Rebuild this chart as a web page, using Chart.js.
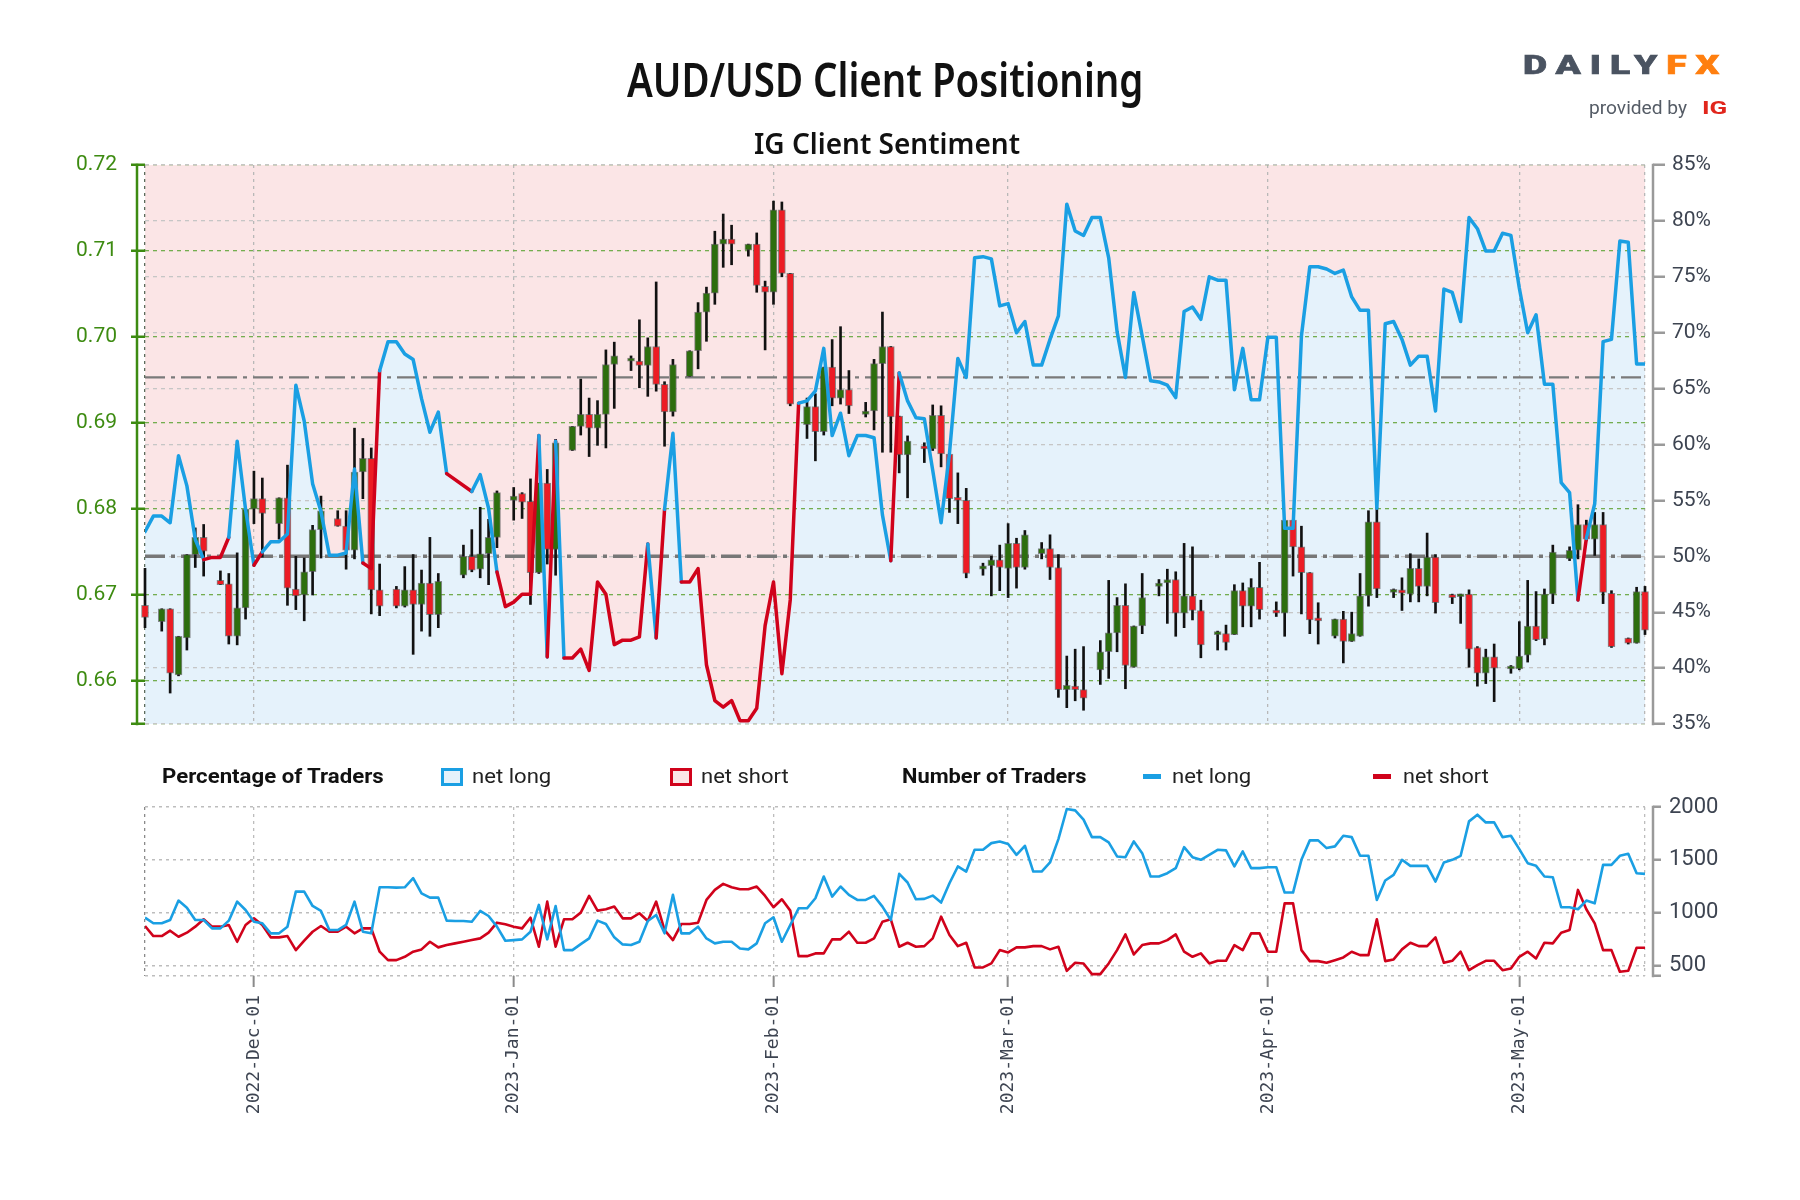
<!DOCTYPE html>
<html>
<head>
<meta charset="utf-8">
<script src="https://cdn.jsdelivr.net/npm/chart.js@4.4.0/dist/chart.umd.min.js"></script>
<style>
  html, body { margin: 0; padding: 0; background: #fff; }
  #page { position: relative; width: 1800px; height: 1200px; overflow: hidden; font-family: Roboto, sans-serif; }
  canvas { position: absolute; left: 0; top: 0; }
  .txt { position: absolute; white-space: nowrap; line-height: 1; transform-origin: 0 50%; }
  .box { position: absolute; box-sizing: border-box; }
</style>
</head>
<body>
<div id="page">
  <canvas id="bottomChart" width="1800" height="1200"></canvas>
  <canvas id="topChart" width="1800" height="1200"></canvas>

  <div class="txt" data-w="516" style="left:627px;top:79px;font:600 47px 'Noto Sans';color:#111;">AUD/USD Client Positioning</div>
  <div class="txt" data-w="266" style="left:754px;top:143px;font:600 28px 'Noto Sans';color:#111;">IG Client Sentiment</div>

  <div class="txt" data-w="205" style="left:1523px;top:65px;font:900 25px Roboto;letter-spacing:6px;-webkit-text-stroke:0.6px currentColor;color:#4a5361;"><span>DAILY</span><span style="color:#ff7f0f">FX</span></div>
  <div class="txt" data-w="98" style="left:1589px;top:107px;font:400 18px Roboto;color:#555c66;">provided by</div>
  <div class="txt" data-w="26" style="left:1702px;top:107px;font:700 19px Roboto;color:#e1261c;">IG</div>

  <div class="txt" data-w="222" style="left:162px;top:776px;font:700 21px Roboto;color:#111;">Percentage of Traders</div>
  <div class="box" style="left:441px;top:768px;width:22px;height:18px;border:3px solid #1a9fe3;background:#e5f2fb;"></div>
  <div class="txt" data-w="79" style="left:472px;top:776px;font:400 21px Roboto;color:#222;">net long</div>
  <div class="box" style="left:670px;top:768px;width:22px;height:18px;border:3px solid #d0021b;background:#fbe5e6;"></div>
  <div class="txt" data-w="88" style="left:701px;top:776px;font:400 21px Roboto;color:#222;">net short</div>
  <div class="txt" data-w="184" style="left:902px;top:776px;font:700 21px Roboto;color:#111;">Number of Traders</div>
  <div class="box" style="left:1143px;top:774px;width:18px;height:5px;background:#1a9fe3;"></div>
  <div class="txt" data-w="79" style="left:1172px;top:776px;font:400 21px Roboto;color:#222;">net long</div>
  <div class="box" style="left:1373px;top:774px;width:18px;height:5px;background:#d0021b;"></div>
  <div class="txt" data-w="86" style="left:1403px;top:776px;font:400 21px Roboto;color:#222;">net short</div>
</div>

<script>
// ---- data ----
const firstDay = '2022-11-18';

const candleDates = [
  '2022-11-18',
  '2022-11-20','2022-11-21','2022-11-22','2022-11-23','2022-11-24','2022-11-25',
  '2022-11-27','2022-11-28','2022-11-29','2022-11-30','2022-12-01','2022-12-02',
  '2022-12-04','2022-12-05','2022-12-06','2022-12-07','2022-12-08','2022-12-09',
  '2022-12-11','2022-12-12','2022-12-13','2022-12-14','2022-12-15','2022-12-16',
  '2022-12-18','2022-12-19','2022-12-20','2022-12-21','2022-12-22','2022-12-23',
  '2022-12-26','2022-12-27','2022-12-28','2022-12-29','2022-12-30',
  '2023-01-01','2023-01-02','2023-01-03','2023-01-04','2023-01-05','2023-01-06',
  '2023-01-08','2023-01-09','2023-01-10','2023-01-11','2023-01-12','2023-01-13',
  '2023-01-15','2023-01-16','2023-01-17','2023-01-18','2023-01-19','2023-01-20',
  '2023-01-22','2023-01-23','2023-01-24','2023-01-25','2023-01-26','2023-01-27',
  '2023-01-29','2023-01-30','2023-01-31','2023-02-01','2023-02-02','2023-02-03',
  '2023-02-05','2023-02-06','2023-02-07','2023-02-08','2023-02-09','2023-02-10',
  '2023-02-12','2023-02-13','2023-02-14','2023-02-15','2023-02-16','2023-02-17',
  '2023-02-19','2023-02-20','2023-02-21','2023-02-22','2023-02-23','2023-02-24',
  '2023-02-26','2023-02-27','2023-02-28','2023-03-01','2023-03-02','2023-03-03',
  '2023-03-05','2023-03-06','2023-03-07','2023-03-08','2023-03-09','2023-03-10',
  '2023-03-12','2023-03-13','2023-03-14','2023-03-15','2023-03-16','2023-03-17',
  '2023-03-19','2023-03-20','2023-03-21','2023-03-22','2023-03-23','2023-03-24',
  '2023-03-26','2023-03-27','2023-03-28','2023-03-29','2023-03-30','2023-03-31',
  '2023-04-02','2023-04-03','2023-04-04','2023-04-05','2023-04-06','2023-04-07',
  '2023-04-09','2023-04-10','2023-04-11','2023-04-12','2023-04-13','2023-04-14',
  '2023-04-16','2023-04-17','2023-04-18','2023-04-19','2023-04-20','2023-04-21',
  '2023-04-23','2023-04-24','2023-04-25','2023-04-26','2023-04-27','2023-04-28',
  '2023-04-30','2023-05-01','2023-05-02','2023-05-03','2023-05-04','2023-05-05',
  '2023-05-07','2023-05-08','2023-05-09','2023-05-10','2023-05-11','2023-05-12',
  '2023-05-14','2023-05-15','2023-05-16'
];

const opens = [
  0.6688,
  0.6669,0.6684,0.6607,0.6650,0.6747,0.6767,
  0.6717,0.6713,0.6652,0.6685,0.6800,0.6812,
  0.6783,0.6813,0.6707,0.6700,0.6727,0.6776,
  0.6789,0.6780,0.6752,0.6843,0.6859,0.6706,
  0.6707,0.6687,0.6706,0.6689,0.6714,0.6677,
  0.6723,0.6745,0.6730,0.6748,0.6767,
  0.6810,0.6818,0.6809,0.6726,0.6830,0.6753,
  0.6868,0.6896,0.6910,0.6894,0.6910,0.6968,
  0.6972,0.6972,0.6967,0.6989,0.6945,0.6913,
  0.6954,0.6984,0.7029,0.7051,0.7108,0.7114,
  0.7101,0.7108,0.7059,0.7052,0.7148,0.7074,
  0.6898,0.6919,0.6890,0.6965,0.6929,0.6939,
  0.6910,0.6914,0.6969,0.6989,0.6908,0.6863,
  0.6873,0.6870,0.6909,0.6864,0.6813,0.6810,
  0.6730,0.6734,0.6741,0.6731,0.6760,0.6732,
  0.6748,0.6754,0.6732,0.6590,0.6594,0.6590,
  0.6613,0.6634,0.6656,0.6688,0.6616,0.6664,
  0.6710,0.6714,0.6718,0.6679,0.6699,0.6682,
  0.6654,0.6655,0.6654,0.6705,0.6687,0.6709,
  0.6681,0.6679,0.6787,0.6756,0.6726,0.6672,
  0.6652,0.6672,0.6646,0.6652,0.6699,0.6785,
  0.6703,0.6706,0.6701,0.6731,0.6710,0.6744,
  0.6700,0.6698,0.6701,0.6639,0.6609,0.6628,
  0.6614,0.6614,0.6630,0.6664,0.6649,0.6701,
  0.6742,0.6752,0.6782,0.6765,0.6782,0.6702,
  0.6650,0.6644,0.6704
];

const highs = [
  0.6731,
  0.6684,0.6684,0.6652,0.6747,0.6778,0.6782,
  0.6728,0.6725,0.6749,0.6800,0.6844,0.6836,
  0.6813,0.6851,0.6745,0.6743,0.6781,0.6815,
  0.6798,0.6798,0.6894,0.6882,0.6871,0.6736,
  0.6710,0.6733,0.6747,0.6729,0.6767,0.6725,
  0.6758,0.6776,0.6802,0.6788,0.6821,
  0.6825,0.6819,0.6835,0.6830,0.6846,0.6881,
  0.6896,0.6951,0.6929,0.6926,0.6985,0.6994,
  0.6978,0.7020,0.6999,0.7064,0.6948,0.6974,
  0.6984,0.7040,0.7058,0.7123,0.7143,0.7130,
  0.7108,0.7121,0.7065,0.7158,0.7157,0.7074,
  0.6929,0.6934,0.6965,0.6997,0.7012,0.6961,
  0.6924,0.6974,0.7029,0.6989,0.6908,0.6885,
  0.6877,0.6921,0.6920,0.6865,0.6842,0.6824,
  0.6737,0.6745,0.6758,0.6783,0.6766,0.6775,
  0.6761,0.6770,0.6747,0.6629,0.6637,0.6640,
  0.6647,0.6717,0.6697,0.6713,0.6664,0.6725,
  0.6718,0.6730,0.6727,0.6760,0.6756,0.6694,
  0.6658,0.6665,0.6712,0.6714,0.6719,0.6738,
  0.6692,0.6787,0.6787,0.6780,0.6726,0.6691,
  0.6672,0.6681,0.6680,0.6725,0.6798,0.6802,
  0.6707,0.6720,0.6748,0.6742,0.6772,0.6747,
  0.6701,0.6701,0.6706,0.6640,0.6637,0.6643,
  0.6618,0.6669,0.6717,0.6704,0.6707,0.6758,
  0.6756,0.6805,0.6787,0.6796,0.6796,0.6705,
  0.6650,0.6709,0.6710
];

const lows = [
  0.6662,
  0.6658,0.6586,0.6606,0.6636,0.6732,0.6722,
  0.6712,0.6643,0.6642,0.6672,0.6783,0.6744,
  0.6765,0.6688,0.6683,0.6670,0.6700,0.6743,
  0.6780,0.6730,0.6742,0.6812,0.6678,0.6676,
  0.6685,0.6686,0.6631,0.6658,0.6652,0.6662,
  0.6720,0.6727,0.6720,0.6712,0.6755,
  0.6787,0.6789,0.6689,0.6725,0.6736,0.6723,
  0.6868,0.6886,0.6861,0.6874,0.6871,0.6917,
  0.6961,0.6941,0.6931,0.6937,0.6873,0.6908,
  0.6954,0.6963,0.6995,0.7038,0.7081,0.7084,
  0.7094,0.7052,0.6985,0.7038,0.7070,0.6920,
  0.6882,0.6856,0.6886,0.6920,0.6922,0.6911,
  0.6907,0.6892,0.6866,0.6866,0.6842,0.6813,
  0.6854,0.6868,0.6849,0.6796,0.6783,0.6720,
  0.6723,0.6699,0.6705,0.6697,0.6708,0.6730,
  0.6742,0.6718,0.6581,0.6569,0.6577,0.6566,
  0.6596,0.6603,0.6634,0.6591,0.6616,0.6655,
  0.6699,0.6667,0.6652,0.6662,0.6671,0.6627,
  0.6636,0.6636,0.6654,0.6663,0.6663,0.6672,
  0.6675,0.6652,0.6722,0.6678,0.6655,0.6643,
  0.6650,0.6621,0.6646,0.6652,0.6687,0.6697,
  0.6697,0.6682,0.6692,0.6692,0.6699,0.6679,
  0.6690,0.6667,0.6616,0.6594,0.6597,0.6576,
  0.6609,0.6613,0.6622,0.6647,0.6642,0.6690,
  0.6740,0.6742,0.6763,0.6746,0.6690,0.6639,
  0.6643,0.6644,0.6654
];

const closes = [
  0.6674,
  0.6684,0.6609,0.6652,0.6747,0.6767,0.6751,
  0.6712,0.6652,0.6685,0.6800,0.6812,0.6795,
  0.6813,0.6708,0.6699,0.6727,0.6776,0.6798,
  0.6780,0.6752,0.6843,0.6859,0.6706,0.6687,
  0.6687,0.6706,0.6689,0.6714,0.6677,0.6716,
  0.6745,0.6729,0.6748,0.6767,0.6819,
  0.6815,0.6808,0.6726,0.6830,0.6753,0.6877,
  0.6896,0.6910,0.6894,0.6910,0.6968,0.6978,
  0.6974,0.6967,0.6989,0.6945,0.6913,0.6968,
  0.6984,0.7029,0.7051,0.7108,0.7114,0.7108,
  0.7108,0.7060,0.7052,0.7148,0.7074,0.6922,
  0.6919,0.6890,0.6965,0.6929,0.6939,0.6920,
  0.6914,0.6969,0.6989,0.6907,0.6863,0.6879,
  0.6870,0.6909,0.6864,0.6812,0.6810,0.6725,
  0.6734,0.6741,0.6732,0.6760,0.6732,0.6770,
  0.6754,0.6732,0.6590,0.6595,0.6590,0.6580,
  0.6634,0.6656,0.6688,0.6618,0.6664,0.6697,
  0.6714,0.6718,0.6679,0.6699,0.6682,0.6642,
  0.6657,0.6645,0.6705,0.6687,0.6709,0.6683,
  0.6679,0.6787,0.6756,0.6726,0.6671,0.6670,
  0.6672,0.6646,0.6655,0.6699,0.6785,0.6707,
  0.6706,0.6702,0.6731,0.6710,0.6744,0.6691,
  0.6697,0.6701,0.6637,0.6609,0.6628,0.6615,
  0.6616,0.6629,0.6664,0.6648,0.6701,0.6750,
  0.6752,0.6782,0.6765,0.6782,0.6703,0.6640,
  0.6644,0.6704,0.6659
];

// daily values from firstDay (one per day)
const netLongPct = [
  52.2,53.6,53.6,53.0,59.0,56.3,51.5,49.7,49.9,49.9,
  51.7,60.3,54.2,49.2,50.4,51.3,51.3,52.0,65.3,62.1,
  56.5,54.0,50.1,50.1,50.3,57.8,49.4,48.9,66.6,69.2,
  69.2,68.1,67.6,64.1,61.1,62.9,57.4,null,null,55.8,
  57.3,54.3,48.6,45.5,45.9,46.6,46.6,60.8,41.0,60.3,
  40.9,40.9,41.7,39.8,47.7,46.6,42.1,42.5,42.5,42.8,
  51.1,42.7,54.2,61.0,47.7,47.7,48.9,40.3,37.1,36.5,
  37.1,35.3,35.3,36.4,43.8,47.7,39.5,46.1,63.7,63.9,
  64.8,68.6,60.8,62.8,59.0,60.8,60.8,60.6,53.7,49.6,
  66.4,63.9,62.4,62.3,57.7,53.0,59.2,67.7,66.0,76.7,
  76.8,76.6,72.4,72.6,70.0,71.0,67.1,67.1,69.4,71.5,
  81.5,79.1,78.7,80.3,80.3,76.7,70.1,66.0,73.6,69.7,
  65.7,65.6,65.3,64.2,71.9,72.3,71.2,75.0,74.7,74.7,
  64.9,68.6,64.0,64.0,69.6,69.6,52.5,52.5,69.7,75.9,
  75.9,75.7,75.3,75.6,73.2,72.0,72.0,54.3,70.8,71.0,
  69.4,67.1,67.9,67.9,63.0,73.9,73.6,71.0,80.3,79.3,
  77.3,77.3,78.9,78.7,74.0,70.0,71.6,65.4,65.4,56.6,
  55.7,46.1,51.6,54.7,69.2,69.4,78.2,78.1,67.2,67.2
];

const longTraders = [
  952,899,899,930,1114,1047,930,930,851,851,
  924,1104,1025,914,899,804,804,867,1199,1199,
  1063,1016,835,835,883,1104,819,804,1240,1240,
  1237,1240,1326,1183,1142,1142,924,921,921,914,
  1016,968,867,734,740,747,819,1073,747,1063,
  645,645,702,756,924,892,766,699,693,724,
  921,978,804,1168,804,804,867,756,709,724,
  724,661,652,709,899,956,724,883,1041,1041,
  1136,1342,1152,1247,1168,1120,1120,1158,1057,930,
  1367,1285,1126,1130,1161,1095,1278,1437,1389,1595,
  1595,1658,1674,1649,1547,1633,1389,1389,1475,1696,
  1981,1968,1880,1715,1715,1665,1532,1525,1674,1563,
  1342,1342,1373,1421,1620,1525,1500,1547,1595,1589,
  1437,1579,1421,1421,1430,1430,1190,1190,1500,1684,
  1684,1611,1627,1728,1715,1538,1538,1120,1304,1358,
  1500,1443,1443,1443,1294,1475,1500,1538,1864,1927,
  1854,1854,1715,1728,1601,1468,1443,1342,1335,1051,
  1051,1032,1114,1088,1452,1452,1538,1557,1373,1367
];

const shortTraders = [
  873,778,778,829,772,810,867,937,867,867,
  883,724,883,946,883,766,766,778,645,734,
  819,873,819,819,867,804,851,851,630,550,
  550,582,630,652,724,671,693,709,724,740,
  756,810,905,889,867,851,952,677,1104,677,
  937,937,1000,1158,1019,1032,1057,946,946,994,
  921,1104,835,740,892,892,905,1120,1215,1272,
  1240,1221,1221,1247,1158,1051,1126,1019,588,588,
  614,614,747,747,819,715,715,756,914,937,
  677,715,677,683,756,962,788,683,715,481,
  481,519,645,623,671,671,683,683,652,677,
  449,525,519,418,418,519,645,794,604,693,
  709,709,740,794,630,582,614,519,544,544,
  693,645,804,804,630,630,1088,1088,645,541,
  541,525,550,576,630,598,598,937,541,557,
  652,715,683,683,766,525,544,630,455,503,
  544,544,455,471,582,630,566,715,709,810,
  835,1215,1032,899,645,645,440,449,668,668
];

const monthTickDates = ['2022-12-01','2023-01-01','2023-02-01','2023-03-01','2023-04-01','2023-05-01'];
const monthTickLabels = ['2022-Dec-01','2023-Jan-01','2023-Feb-01','2023-Mar-01','2023-Apr-01','2023-May-01'];
const priceTicks = [0.655, 0.66, 0.67, 0.68, 0.69, 0.70, 0.71, 0.72];
const pctTicks = [35, 40, 45, 50, 55, 60, 65, 70, 75, 80, 85];
const traderTicks = [400, 500, 1000, 1500, 2000];
const midLevel = 50;
const refLevel = 66;

// ---- helpers ----
const DAY = 86400000;
const t0 = Date.parse(firstDay + 'T00:00:00Z');
const dayIndex = s => Math.round((Date.parse(s + 'T00:00:00Z') - t0) / DAY);
const monthDays = monthTickDates.map(dayIndex);
const xMax = dayIndex(candleDates[candleDates.length - 1]);
const xTicks = [0, ...monthDays, xMax];

const BLUE = '#1a9fe3';
const RED = '#d0021b';
const BODY_GREEN = '#2d6e0e';
const BODY_RED = '#ec1c24';
const AXIS_GREEN = '#3d8b11';
const AXIS_GRAY = '#9a9a9a';
const TXT = '#3d4451';

Chart.defaults.font.family = 'Roboto';
Chart.defaults.animation = false;

// axis lines sit a few pixels outside the plot frame, as in the original
const offsetAxisLines = {
  id: 'offsetAxisLines',
  afterDraw(chart, args, opts) {
    const { ctx, chartArea: a } = chart;
    ctx.save();
    ctx.lineWidth = 2.5;
    for (const l of opts.lines) {
      const x = l.side === 'left' ? a.left - 8 : a.right + 8;
      ctx.strokeStyle = l.color;
      ctx.beginPath();
      ctx.moveTo(x, a.top - 1.25);
      ctx.lineTo(x, a.bottom + 1.25);
      ctx.stroke();
    }
    ctx.restore();
  }
};

const wickData = candleDates.map((d, i) => ({ x: dayIndex(d), y: [lows[i], highs[i]] }));
const bodyData = candleDates.map((d, i) => ({ x: dayIndex(d), y: [opens[i], closes[i]] }));
const pctData = netLongPct.map((v, i) => ({ x: i, y: v }));
const longData = longTraders.map((v, i) => ({ x: i, y: v }));
const shortData = shortTraders.map((v, i) => ({ x: i, y: v }));

function setTicks(values) {
  return scale => { scale.ticks = values.map(v => ({ value: v })); };
}

// ---- top panel: candles + sentiment ----
new Chart(document.getElementById('topChart'), {
  type: 'bar',
  plugins: [offsetAxisLines],
  data: {
    datasets: [
      {
        type: 'line', data: pctData, yAxisID: 'y1', order: 9,
        borderColor: 'transparent', borderWidth: 0, pointRadius: 0,
        spanGaps: true, fill: 'end', backgroundColor: '#fbe5e6'
      },
      {
        type: 'line', data: pctData, yAxisID: 'y1', order: 8,
        borderColor: 'transparent', borderWidth: 0, pointRadius: 0,
        spanGaps: true, fill: 'start', backgroundColor: '#e5f2fb'
      },
      {
        type: 'line', yAxisID: 'y1', order: 5, pointRadius: 0,
        data: [{ x: 0, y: midLevel }, { x: xMax, y: midLevel }],
        borderColor: '#777', borderWidth: 3.5, borderDash: [20, 6, 4, 6]
      },
      {
        type: 'line', yAxisID: 'y1', order: 5, pointRadius: 0,
        data: [{ x: 0, y: refLevel }, { x: xMax, y: refLevel }],
        borderColor: '#7a7a7a', borderWidth: 2.2, borderDash: [20, 6, 4, 6]
      },
      {
        label: 'wick', data: wickData, yAxisID: 'y', order: 3,
        grouped: false, barThickness: 2, backgroundColor: '#111', clip: false
      },
      {
        label: 'body', data: bodyData, yAxisID: 'y', order: 2,
        grouped: false, barThickness: 7, minBarLength: 3, clip: false,
        borderSkipped: false, borderWidth: 1, borderColor: 'rgba(80,80,80,0.65)',
        backgroundColor: ctx => closes[ctx.dataIndex] >= opens[ctx.dataIndex] ? BODY_GREEN : BODY_RED
      },
      {
        type: 'line', data: pctData, yAxisID: 'y1', order: 0,
        pointRadius: 0, spanGaps: true, fill: false,
        borderWidth: 3.5, borderColor: BLUE, borderJoinStyle: 'round', borderCapStyle: 'round',
        segment: { borderColor: ctx => ctx.p0.parsed.y < midLevel ? RED : BLUE }
      }
    ]
  },
  options: {
    responsive: false,
    layout: { padding: { top: 165, bottom: 476, left: 0, right: 0 } },
    plugins: {
      legend: { display: false }, tooltip: { enabled: false },
      filler: { drawTime: 'beforeDraw' },
      offsetAxisLines: { lines: [{ side: 'left', color: AXIS_GREEN }, { side: 'right', color: AXIS_GRAY }] }
    },
    scales: {
      x: {
        type: 'linear', min: 0, max: xMax, offset: false,
        afterBuildTicks: setTicks(xTicks),
        afterFit: s => { s.height = 0; },
        ticks: { display: false },
        border: { display: false, dash: [3, 4] },
        grid: { offset: false, drawTicks: false, lineWidth: 1.3,
                color: ctx => ctx.index === 0 ? '#5c6b5c' : '#b8b8b8' }
      },
      y: {
        position: 'left', min: 0.655, max: 0.72,
        afterBuildTicks: setTicks(priceTicks),
        afterFit: s => { s.width = 145; },
        ticks: { color: AXIS_GREEN, padding: 6, font: { size: 21 },
                 callback: v => v === 0.655 ? '' : v.toFixed(2) },
        border: { display: false, dash: [4, 4] },
        grid: { color: '#73ad4f', lineWidth: 1.3, tickColor: AXIS_GREEN, tickWidth: 2.5,
                tickLength: 22, tickBorderDash: [0, 8, 14] }
      },
      y1: {
        position: 'right', min: 35, max: 85,
        afterBuildTicks: setTicks(pctTicks),
        afterFit: s => { s.width = 155; },
        ticks: { color: TXT, padding: 7, font: { size: 21 }, callback: v => v + '%' },
        border: { display: false, dash: [4, 4] },
        grid: { color: '#c6c6c6', lineWidth: 1.3, tickColor: AXIS_GRAY, tickWidth: 2.5,
                tickLength: 20, tickBorderDash: [0, 8, 12] }
      }
    }
  }
});

// ---- bottom panel: number of traders ----
new Chart(document.getElementById('bottomChart'), {
  type: 'line',
  plugins: [offsetAxisLines],
  data: {
    datasets: [
      { data: longData, borderColor: BLUE, borderWidth: 2.6, pointRadius: 0, fill: false, borderJoinStyle: 'round' },
      { data: shortData, borderColor: RED, borderWidth: 2.6, pointRadius: 0, fill: false, borderJoinStyle: 'round' }
    ]
  },
  options: {
    responsive: false,
    layout: { padding: { top: 807, bottom: 0, left: 145, right: 0 } },
    plugins: {
      legend: { display: false }, tooltip: { enabled: false },
      offsetAxisLines: { lines: [{ side: 'right', color: AXIS_GRAY }] }
    },
    scales: {
      x: {
        type: 'linear', min: 0, max: xMax, offset: false,
        afterBuildTicks: setTicks(xTicks),
        afterFit: s => { s.height = 224; },
        ticks: {
          color: TXT, minRotation: 90, maxRotation: 90, autoSkip: false, padding: 8,
          font: { family: "'DejaVu Sans Mono'", size: 18 },
          callback: v => { const k = monthDays.indexOf(v); return k < 0 ? '' : monthTickLabels[k]; }
        },
        border: { display: false, dash: [3, 4] },
        grid: { offset: false, color: ctx => ctx.index === 0 ? '#8a8a8a' : '#bdbdbd', lineWidth: 1.3,
                tickLength: 11, tickWidth: 2, tickBorderDash: [],
                tickColor: ctx => (ctx.tick && monthDays.includes(ctx.tick.value)) ? '#8a8a8a' : 'transparent' }
      },
      y: {
        position: 'right', min: 400, max: 2000,
        afterBuildTicks: setTicks(traderTicks),
        afterFit: s => { s.width = 155; },
        ticks: { color: TXT, padding: 8, font: { size: 22 }, callback: v => v === 400 ? '' : String(v) },
        border: { display: false, dash: [3, 4] },
        grid: { color: '#bdbdbd', lineWidth: 1.5, tickColor: AXIS_GRAY, tickWidth: 2.5,
                tickLength: 16, tickBorderDash: [0, 8, 8] }
      }
    }
  }
});

// ---- fit html texts to measured widths ----
document.querySelectorAll('.txt').forEach(el => {
  const k = (+el.dataset.w) / el.offsetWidth;
  el.style.transform = 'translateY(-50%) scaleX(' + k.toFixed(3) + ')';
});
</script>
</body>
</html>
